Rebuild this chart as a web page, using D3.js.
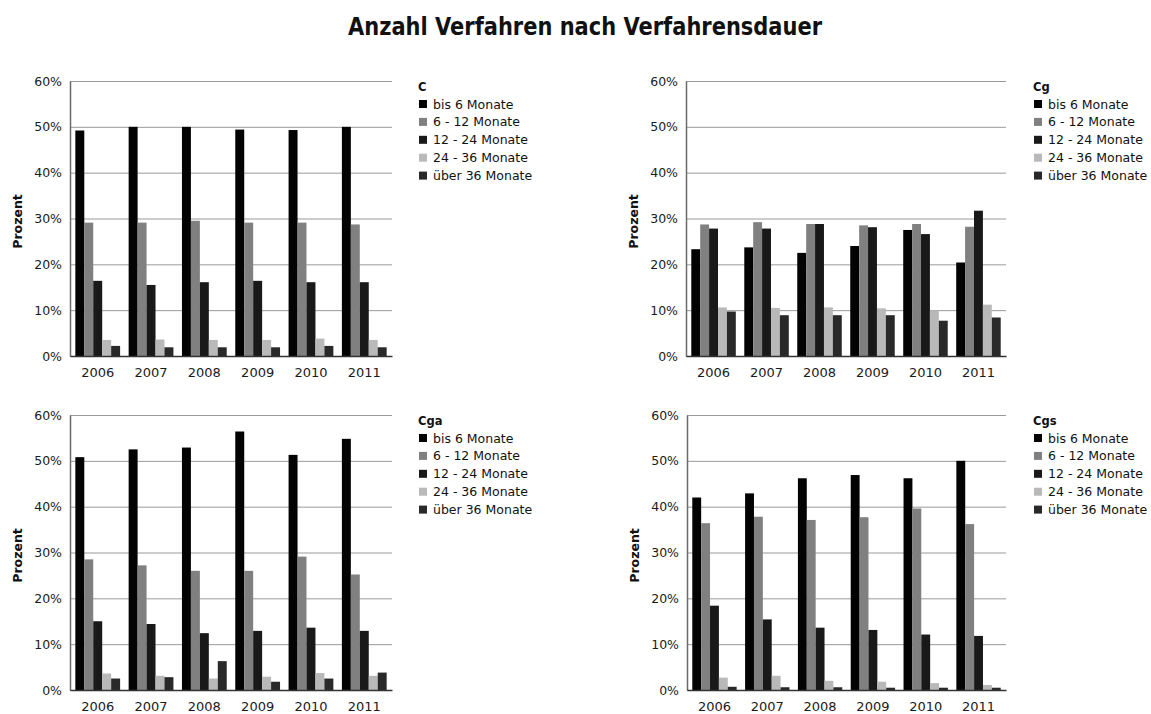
<!DOCTYPE html>
<html>
<head>
<meta charset="utf-8">
<script src="https://cdn.jsdelivr.net/npm/d3@7"></script>
<style>
  html, body { margin: 0; padding: 0; background: #fff; }
  svg { display: block; font-family: "DejaVu Sans", Verdana, sans-serif; }
</style>
</head>
<body>
<svg id="chart" width="1151" height="714"></svg>
<script>
// data, percent per year
const years = ["2006", "2007", "2008", "2009", "2010", "2011"]
const durations = ["bis 6 Monate", "6 - 12 Monate", "12 - 24 Monate", "24 - 36 Monate", "über 36 Monate"]
const yTicks = [0, 10, 20, 30, 40, 50, 60]

// one row per duration class, one value per year
const valuesC = [
    [49.2, 50.0, 50.0, 49.4, 49.3, 50.0],
    [29.1, 29.1, 29.5, 29.1, 29.1, 28.7],
    [16.4, 15.5, 16.1, 16.4, 16.1, 16.1],
    [3.5, 3.6, 3.5, 3.5, 3.8, 3.5],
    [2.2, 1.9, 1.9, 1.9, 2.2, 1.9]
]
const valuesCg = [
    [23.3, 23.7, 22.5, 24.0, 27.5, 20.4],
    [28.7, 29.2, 28.8, 28.5, 28.8, 28.2],
    [27.8, 27.8, 28.8, 28.1, 26.6, 31.7],
    [10.6, 10.5, 10.6, 10.4, 9.9, 11.2],
    [9.7, 8.9, 8.9, 8.9, 7.7, 8.4]
]
const valuesCga = [
    [50.8, 52.5, 52.9, 56.4, 51.3, 54.8],
    [28.5, 27.2, 26.0, 26.0, 29.1, 25.2],
    [15.0, 14.4, 12.4, 12.9, 13.6, 12.9],
    [3.6, 3.1, 2.5, 2.9, 3.7, 3.1],
    [2.5, 2.8, 6.3, 1.8, 2.5, 3.8]
]
const valuesCgs = [
    [42.0, 42.9, 46.2, 46.9, 46.2, 50.0],
    [36.4, 37.8, 37.1, 37.7, 39.6, 36.2],
    [18.4, 15.4, 13.6, 13.1, 12.1, 11.8],
    [2.7, 3.1, 2.0, 1.8, 1.5, 1.1],
    [0.7, 0.6, 0.6, 0.5, 0.5, 0.5]
]

const colors = ["#030303", "#808080", "#191919", "#b9b9b9", "#292929"]

// panel boxes (pixels)
const panels = [
    {name: "C",   values: valuesC,   x0: 70,  x1: 392,  top: 81,  bottom: 356, legendX: 418},
    {name: "Cg",  values: valuesCg,  x0: 686, x1: 1006, top: 81,  bottom: 356, legendX: 1033},
    {name: "Cga", values: valuesCga, x0: 70,  x1: 392,  top: 415, bottom: 690, legendX: 418},
    {name: "Cgs", values: valuesCgs, x0: 687, x1: 1006, top: 415, bottom: 690, legendX: 1033}
]

const svg = d3.select("#chart")

svg.append("rect").attr("width", 1151).attr("height", 714).attr("fill", "#fff")

svg.append("text")
    .attr("x", 585)
    .attr("y", 35)
    .attr("text-anchor", "middle")
    .attr("font-size", 24)
    .attr("font-weight", "bold")
    .attr("textLength", 474)
    .attr("lengthAdjust", "spacingAndGlyphs")
    .attr("fill", "#111")
    .text("Anzahl Verfahren nach Verfahrensdauer")

panels.forEach(p => {
    const g = svg.append("g")

    const x = d3.scaleBand()
        .domain(years)
        .range([p.x0, p.x1])
        .paddingInner(0.16)
        .paddingOuter(0.1)

    const xSub = d3.scaleBand()
        .domain(d3.range(durations.length))
        .range([0, x.bandwidth()])

    const y = d3.scaleLinear()
        .domain([0, 60])
        .range([p.bottom, p.top])

    // grid
    g.append("g")
        .attr("transform", `translate(${p.x0},0)`)
        .call(d3.axisLeft(y).tickValues(yTicks).tickSize(-(p.x1 - p.x0)).tickFormat(""))
        .call(a => a.select(".domain").remove())
        .call(a => a.selectAll("line").attr("stroke", "#9a9a9a").attr("stroke-width", 1))

    // y axis
    g.append("g")
        .attr("transform", `translate(${p.x0},0)`)
        .call(d3.axisLeft(y).tickValues(yTicks).tickSize(0).tickPadding(8).tickFormat(d => d + "%"))
        .call(a => a.select(".domain").attr("stroke", "#6a6a6a").attr("stroke-width", 1.5))
        .call(a => a.selectAll("text").attr("font-size", 12.5).attr("fill", "#1a1a1a").attr("font-family", "DejaVu Sans"))

    // bars
    durations.forEach((dur, i) => {
        g.append("g")
            .selectAll("rect")
            .data(p.values[i])
            .enter()
            .append("rect")
            .attr("x", (d, j) => x(years[j]) + xSub(i))
            .attr("y", d => y(d))
            .attr("width", xSub.bandwidth())
            .attr("height", d => y(0) - y(d))
            .attr("fill", colors[i])
    })

    // x axis
    g.append("g")
        .attr("transform", `translate(0,${p.bottom})`)
        .call(d3.axisBottom(x).tickSize(0).tickPadding(12))
        .call(a => a.select(".domain").attr("stroke", "#333").attr("stroke-width", 1.5))
        .call(a => a.selectAll("text").attr("font-size", 13).attr("fill", "#1a1a1a").attr("font-family", "DejaVu Sans"))

    // y title
    g.append("text")
        .attr("transform", `translate(${p.x0 - 48},${(p.top + p.bottom) / 2 + 3}) rotate(-90)`)
        .attr("text-anchor", "middle")
        .attr("font-size", 12.5)
        .attr("font-weight", "bold")
        .attr("fill", "#111")
        .text("Prozent")

    // legend
    const lg = g.append("g").attr("transform", `translate(${p.legendX},${p.top})`)
    lg.append("text")
        .attr("x", 0)
        .attr("y", 10)
        .attr("font-size", 11.5)
        .attr("font-weight", "bold")
        .attr("fill", "#111")
        .text(p.name)
    const items = lg.selectAll(".item")
        .data(durations)
        .enter()
        .append("g")
        .attr("transform", (d, i) => `translate(0,${23 + i * 17.9})`)
    items.append("rect")
        .attr("x", 1)
        .attr("y", -4)
        .attr("width", 8)
        .attr("height", 8)
        .attr("fill", (d, i) => colors[i])
    items.append("text")
        .attr("x", 15)
        .attr("y", 4.5)
        .attr("font-size", 12.5)
        .attr("fill", "#111")
        .text(d => d)
})
</script>
</body>
</html>
